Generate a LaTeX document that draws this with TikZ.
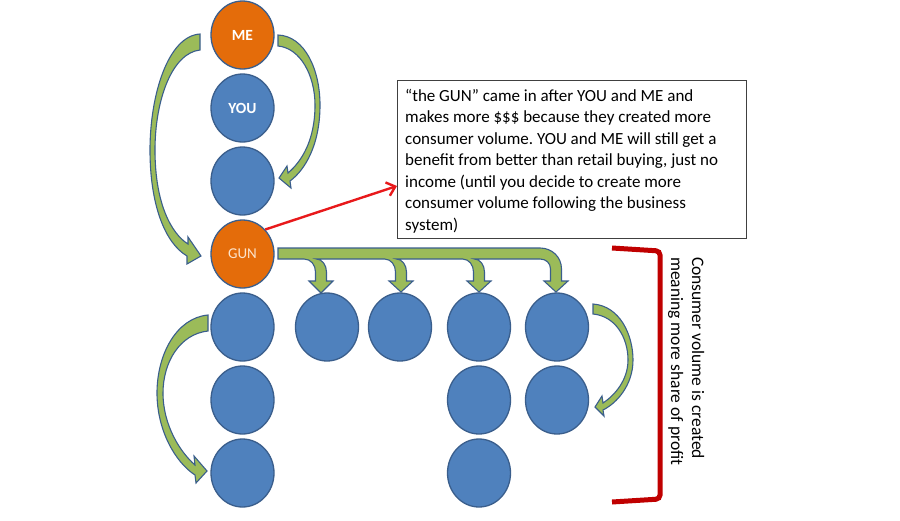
\documentclass[tikz,border=0pt]{standalone}
\usepackage{fontspec}
\setmainfont{Carlito}
\usetikzlibrary{shapes.geometric,arrows.meta}
\definecolor{cblue}{HTML}{4F81BD}
\definecolor{cedge}{HTML}{3A5E8C}
\definecolor{corange}{HTML}{E46C0A}
\definecolor{cgreen}{HTML}{9BBB59}
\definecolor{cred}{HTML}{E8191B}
\definecolor{cbrack}{HTML}{C00000}
\definecolor{cgun}{HTML}{FCE4CC}
\definecolor{boxgray}{HTML}{404040}
\frenchspacing
\begin{document}
\begin{tikzpicture}[x=1pt,y=-1pt,
  ball/.style={ellipse, draw=cedge, line width=1.3pt, fill=cblue, minimum width=63pt, minimum height=68pt, inner sep=0pt},
  oball/.style={ball, fill=corange},
  lbl/.style={text=white, font=\fontsize{15.5}{16}\selectfont\bfseries},
  gunlbl/.style={text=cgun, font=\fontsize{15}{16}\selectfont},
  garrow/.style={fill=cgreen, draw=cedge, line width=1.1pt, line join=miter},
  boxline/.style={anchor=base west, inner sep=0pt, font=\fontsize{17}{20}\selectfont},
  vline/.style={anchor=base west, inner sep=0pt, rotate=-90, font=\fontsize{17.5}{21}\selectfont},
  textbox/.style={draw=boxgray, line width=1.3pt, minimum width=349pt, minimum height=158pt, anchor=north west, inner sep=0pt},
  redarrow/.style={cred, line width=2.4pt, -{Straight Barb[length=8pt,width=14pt]}},
  bracket/.style={cbrack, line width=5pt, rounded corners=4pt}
]
\useasboundingbox (0,0) rectangle (900,520);
\fill[white] (0,0) rectangle (900,520);

% circles
\node[oball, lbl] (me) at (242.5,35) {ME};
\node[ball, lbl] (you) at (242.5,108) {YOU};
\node[ball] (c3) at (242.5,181) {};
\node[oball, gunlbl] (gun) at (242.5,254) {GUN};
\node[ball] (a1) at (242.5,327) {};
\node[ball] (a2) at (242.5,400) {};
\node[ball] (a3) at (242.5,473) {};
\node[ball] (b1) at (327,327) {};
\node[ball] (d1) at (400,327) {};
\node[ball] (e1) at (479,327) {};
\node[ball] (e2) at (479,400) {};
\node[ball] (e3) at (479,473) {};
\node[ball] (f1) at (557,327) {};
\node[ball] (f2) at (557,400) {};

% curved block arrows
\path[garrow] (200,34) .. controls (168,36) and (150,95) .. (150,150)
  .. controls (150,205) and (165,243) .. (187,256) -- (187,264) -- (201,256) -- (188,237) -- (188,244)
  .. controls (172,234) and (155,205) .. (155,150) .. controls (155,100) and (172,53) .. (200,50) -- cycle;
\path[garrow] (278,35) .. controls (305,36) and (320,70) .. (320,105)
  .. controls (320,145) and (305,170) .. (290,181) -- (291,188) -- (279,178) -- (287,166) -- (288,173)
  .. controls (302,161) and (315,140) .. (315,105) .. controls (315,75) and (300,48) .. (278,46) -- cycle;
\path[garrow] (208,315) .. controls (176,318) and (157,355) .. (157,393)
  .. controls (157,430) and (175,462) .. (195,475) -- (196,483) -- (207,471) -- (194,456) -- (195,465)
  .. controls (180,452) and (163,425) .. (163,393) .. controls (163,362) and (180,334) .. (208,331) -- cycle;
\path[garrow] (593,304) .. controls (620,306) and (633,335) .. (633,360)
  .. controls (633,385) and (617,403) .. (603,410) -- (604,416) -- (595,407) -- (602,396) -- (603,403)
  .. controls (615,395) and (628,380) .. (628,360) .. controls (628,337) and (615,316) .. (593,314) -- cycle;

% GUN distribution arrow
\path[garrow] (278,248) -- (540,248) .. controls (552,248) and (561.5,257) .. (561.5,269)
  -- (561.5,281) -- (568,281) -- (556,292) -- (544,281) -- (550.5,281) -- (550.5,269)
  .. controls (550.5,263) and (546,259) .. (540,259)
  -- (474.5,259) .. controls (480,259) and (484.5,265) .. (484.5,272) -- (484.5,281) -- (491,281) -- (479,292)
  -- (467,281) -- (473.5,281) -- (473.5,272) .. controls (473.5,265) and (469,259) .. (462.5,259)
  -- (396.5,259) .. controls (402,259) and (406.5,265) .. (406.5,272) -- (406.5,281) -- (413,281) -- (401,292)
  -- (389,281) -- (395.5,281) -- (395.5,272) .. controls (395.5,265) and (391,259) .. (384.5,259)
  -- (316.5,259) .. controls (322,259) and (326.5,265) .. (326.5,272) -- (326.5,281) -- (333,281) -- (321,293)
  -- (309,281) -- (315.5,281) -- (315.5,272) .. controls (315.5,265) and (311,259) .. (304,259)
  -- (278,259) -- cycle;

% text box
\node[textbox] (box) at (397,80) {};
\node[boxline] (t1) at (405,101) {“the GUN” came in after YOU and ME and};
\node[boxline] (t2) at (405,122.5) {makes more \$\$\$ because they created more};
\node[boxline] (t3) at (405,144) {consumer volume. YOU and ME will still get a};
\node[boxline] (t4) at (405,165.5) {benefit from better than retail buying, just no};
\node[boxline] (t5) at (405,187) {income (until you decide to create more};
\node[boxline] (t6) at (405,208.5) {consumer volume following the business};
\node[boxline] (t7) at (405,230) {system)};

% red pointer
\coordinate (rt) at (397,186);
\draw[redarrow] (gun.north east) -- (rt);

% bracket and vertical caption
\coordinate (k1) at (612,248);
\coordinate (k2) at (660,251);
\coordinate (k3) at (660,499);
\coordinate (k4) at (612,502);
\draw[bracket] (k1) -- (k2) -- (k3) -- (k4);
\node[vline] (v1) at (692,257) {Consumer volume is created};
\node[vline] (v2) at (671,257) {meaning more share of profit};
\end{tikzpicture}
\end{document}
